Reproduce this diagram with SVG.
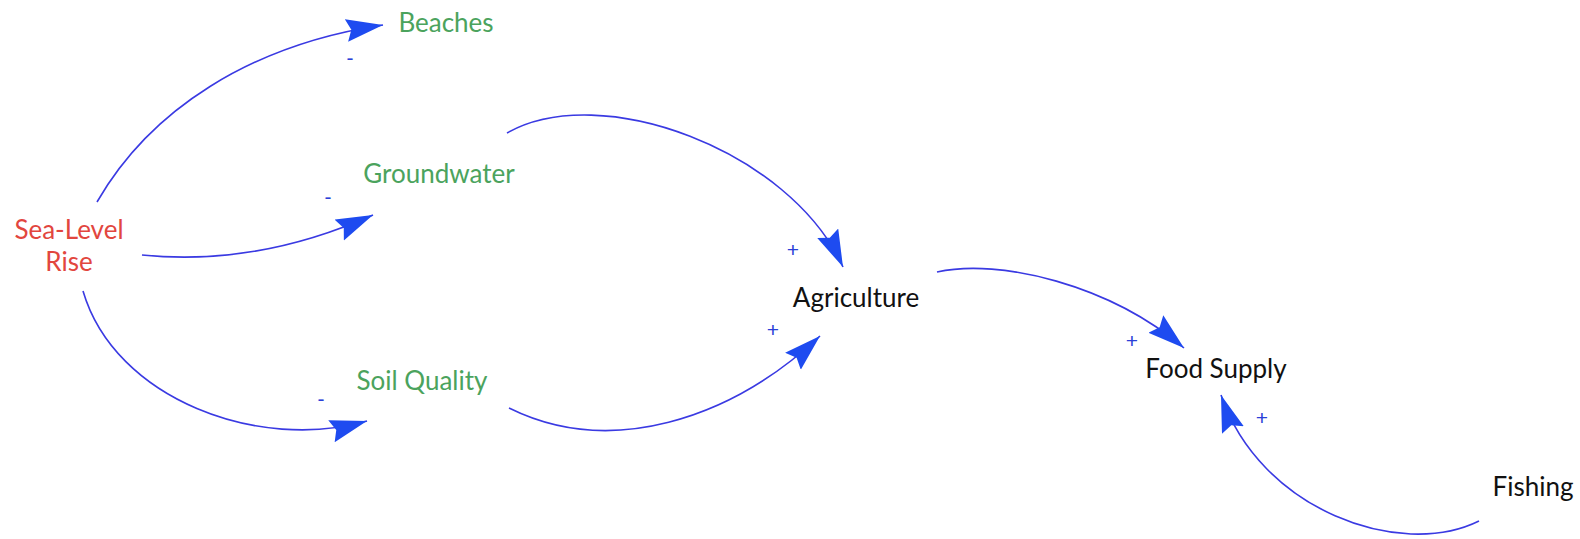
<svg xmlns="http://www.w3.org/2000/svg" width="1580" height="539" viewBox="0 0 1580 539">
<style>
.lbl{font-family:Lato,"Liberation Sans",sans-serif;font-size:26px;text-anchor:middle}
.red{fill:#E2463E}
.green{fill:#4BA35D}
.black{fill:#111}
.sign{font-family:"Liberation Sans",sans-serif;font-size:21px;text-anchor:middle;fill:#2B3FD8}
.link{fill:none;stroke:#3A3AE2;stroke-width:1.6;marker-end:url(#ah)}
</style>
<defs>
<marker id="ah" markerUnits="userSpaceOnUse" markerWidth="42" markerHeight="26" refX="37" refY="11.5" orient="auto">
<path d="M0,0 L37,11.5 L0,23 L5,11.5 z" fill="#1E4BF0"/>
</marker>
</defs>
<rect width="1580" height="539" fill="#fff"/>
<g id="connectors">
<path class="link" d="M97,202 C150,110 250,45 383,25"/>
<path class="link" d="M142,255 C230,264 310,243 373,215"/>
<path class="link" d="M83,291 C115,400 260,452 367,421"/>
<path class="link" d="M507,133 C600,80 790,150 843,267"/>
<path class="link" d="M509,408 C610,458 730,420 820,336"/>
<path class="link" d="M937,272 C1000,258 1110,285 1184,348"/>
<path class="link" d="M1479,521 C1400,560 1260,510 1221,395"/>
<text class="sign" x="350" y="65">-</text>
<text class="sign" x="328" y="204">-</text>
<text class="sign" x="321" y="406">-</text>
<text class="sign" x="793" y="257">+</text>
<text class="sign" x="773" y="337">+</text>
<text class="sign" x="1132" y="348">+</text>
<text class="sign" x="1262" y="425">+</text>
</g>
<g id="sea-level-rise"><text class="lbl red" x="69" y="239">Sea-Level</text><text class="lbl red" x="69" y="271">Rise</text></g>
<g id="beaches"><text class="lbl green" x="446" y="32">Beaches</text></g>
<g id="groundwater"><text class="lbl green" x="439" y="183">Groundwater</text></g>
<g id="soil-quality"><text class="lbl green" x="422" y="390">Soil Quality</text></g>
<g id="agriculture"><text class="lbl black" x="856" y="307">Agriculture</text></g>
<g id="food-supply"><text class="lbl black" x="1216" y="378">Food Supply</text></g>
<g id="fishing"><text class="lbl black" x="1533" y="496">Fishing</text></g>
</svg>
